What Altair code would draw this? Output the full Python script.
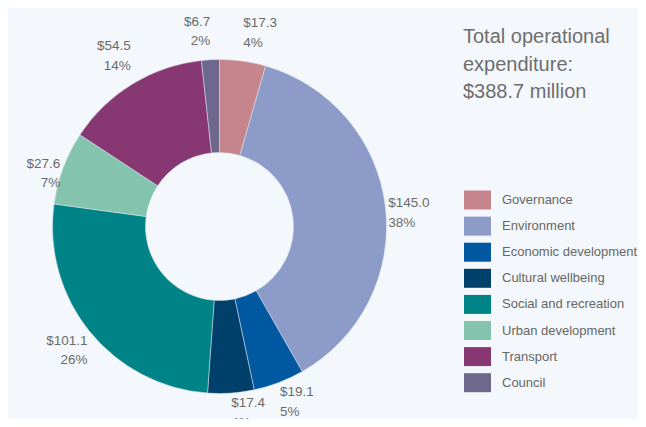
import altair as alt
import pandas as pd

categories = ["Governance", "Environment", "Economic development", "Cultural wellbeing",
              "Social and recreation", "Urban development", "Transport", "Council"]
values = [17.3, 145.0, 19.1, 17.4, 101.1, 27.6, 54.5, 6.7]
percents = [4, 38, 5, 4, 26, 7, 14, 2]
colors = ["#C6848C", "#8D9BC8", "#0058A0", "#00406A", "#008386", "#84C4AE", "#873873", "#6E688D"]
title_lines = ["Total operational", "expenditure:", "$388.7 million"]

df = pd.DataFrame({
    "category": categories,
    "value": values,
    "order": list(range(len(categories))),
    "label": [f"${v:.1f}\n{p}%" for v, p in zip(values, percents)],
})

BG = "#F4F8FC"
FONT = "Liberation Sans"
CX, CY = 211.5, 218.5

color_scale = alt.Scale(domain=categories, range=colors)

arcs = alt.Chart(df).mark_arc(
    outerRadius=167, innerRadius=74, stroke="#dfe6f0", strokeWidth=0.5
).encode(
    theta=alt.Theta("value:Q", stack=True),
    order=alt.Order("order:Q"),
    color=alt.Color(
        "category:N", scale=color_scale,
        legend=alt.Legend(
            title=None, orient="none", legendX=456, legendY=178.5,
            symbolType="M-1,-0.7037L1,-0.7037L1,0.7037L-1,0.7037Z",
            symbolSize=729, symbolStrokeWidth=0, symbolOpacity=1,
            labelFont=FONT, labelFontSize=13, labelColor="#666666",
            labelOffset=11, labelLimit=300, rowPadding=3.1,
        ),
    ),
    x=alt.value(CX), y=alt.value(CY),
)

labels = alt.Chart(df).transform_joinaggregate(
    total="sum(value)"
).transform_window(
    cum="sum(value)", sort=[alt.SortField("order")]
).transform_calculate(
    mid="2*PI*(datum.cum - datum.value/2)/datum.total"
).transform_calculate(
    sx="sin(datum.mid)", cx="cos(datum.mid)"
).mark_text(
    radius=170, font=FONT, fontSize=13.5, color="#6a6a6a",
    lineBreak="\n", lineHeight=19.5, baseline="top",
    align=alt.ExprRef("datum.sx > 0.03 ? 'left' : (datum.sx < -0.03 ? 'right' : 'center')"),
    dy=alt.ExprRef("datum.cx > 0.4 ? -42 : (datum.cx < -0.4 ? 0 : -10)"),
).encode(
    theta=alt.Theta("value:Q", stack=True),
    order=alt.Order("order:Q"),
    text="label:N", x=alt.value(CX), y=alt.value(CY),
)

title_df = pd.DataFrame({"t": ["\n".join(title_lines)]})
title = alt.Chart(title_df).mark_text(
    font=FONT, fontSize=20, color="#6e6e6e", align="left", baseline="alphabetic",
    lineBreak="\n", lineHeight=27.5,
).encode(text="t:N", x=alt.value(455), y=alt.value(35))

chart = alt.layer(arcs, labels, title).properties(
    width=630, height=411, padding=0, background=BG,
    autosize=alt.AutoSizeParams(type="none"),
).configure_view(stroke=None)

chart.save("out.html", embed_options={"renderer": "svg", "actions": False})
